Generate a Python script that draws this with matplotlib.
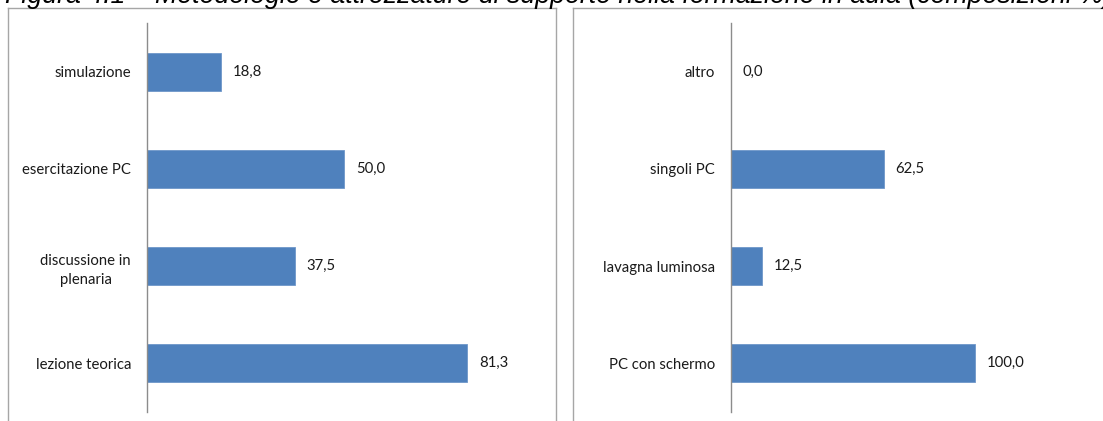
import matplotlib
matplotlib.use("Agg")
import matplotlib.pyplot as plt
from matplotlib.lines import Line2D

# metodologie (left) and attrezzature (right), % values
metodi = ['simulazione', 'esercitazione PC', 'discussione in\nplenaria', 'lezione teorica']
metodi_val = [18.8, 50.0, 37.5, 81.3]

attrezzature = ['altro', 'singoli PC', 'lavagna luminosa', 'PC con schermo']
attrezzature_val = [0.0, 62.5, 12.5, 100.0]

W, H = 1103, 421
fig = plt.figure(figsize=(W / 100, H / 100), dpi=100)
fig.patch.set_facecolor('white')

bar_color = '#4F81BD'
txt_color = '#1a1a1a'
font = 'Lato'
fs = 10.7


def px(x0, y0, x1, y1):
    # pixel box (top-left origin) -> figure fraction rect
    return [x0 / W, 1 - y1 / H, (x1 - x0) / W, (y1 - y0) / H]


def panel(ax, cats, vals, xmax, pad):
    pos = list(range(len(cats)))
    ax.barh(pos, vals, height=0.39, color=bar_color, edgecolor='#6f97c9', linewidth=0.6)
    ax.set_xlim(0, xmax)
    ax.set_ylim(len(cats) - 0.5, -0.5)
    ax.set_yticks(pos)
    ax.set_yticklabels(cats, fontsize=fs, family=font, color=txt_color,
                       multialignment='center', linespacing=1.45)
    ax.tick_params(axis='y', length=0, pad=pad * 72 / 100)
    ax.set_xticks([])
    for s in ['top', 'right', 'bottom']:
        ax.spines[s].set_visible(False)
    ax.spines['left'].set_color('#8c8c8c')
    ax.spines['left'].set_linewidth(1)
    ax.patch.set_alpha(0)
    for p, v in zip(pos, vals):
        ax.annotate(f'{v:.1f}'.replace('.', ','), (v, p), xytext=(8.5, 0),
                    textcoords='offset points', va='center', ha='left',
                    fontsize=fs, family=font, color=txt_color)


ax1 = fig.add_axes(px(147, 23, 541, 412))
panel(ax1, metodi, metodi_val, 100, 16)

ax2 = fig.add_axes(px(731, 23, 1024, 412))
panel(ax2, attrezzature, attrezzature_val, 120, 16)

# chart area frames
frame = '#a6a6a6'
for xs, ys in [([8, 8], [8, H]), ([8, 556], [8, 8]), ([556, 556], [8, H]),
               ([573, 573], [8, H]), ([573, W], [8, 8])]:
    fig.add_artist(Line2D([x / W for x in xs], [1 - y / H for y in ys],
                          transform=fig.transFigure, color=frame, linewidth=1))

fig.text(5 / W, 1 - 3 / H,
         'Figura 4.1 \u2013 Metodologie e attrezzature di supporto nella formazione in aula (composizioni %)',
         fontsize=19.3, style='italic', family='Liberation Sans', color='black',
         ha='left', va='baseline')

fig.savefig('out.png', dpi=100)
